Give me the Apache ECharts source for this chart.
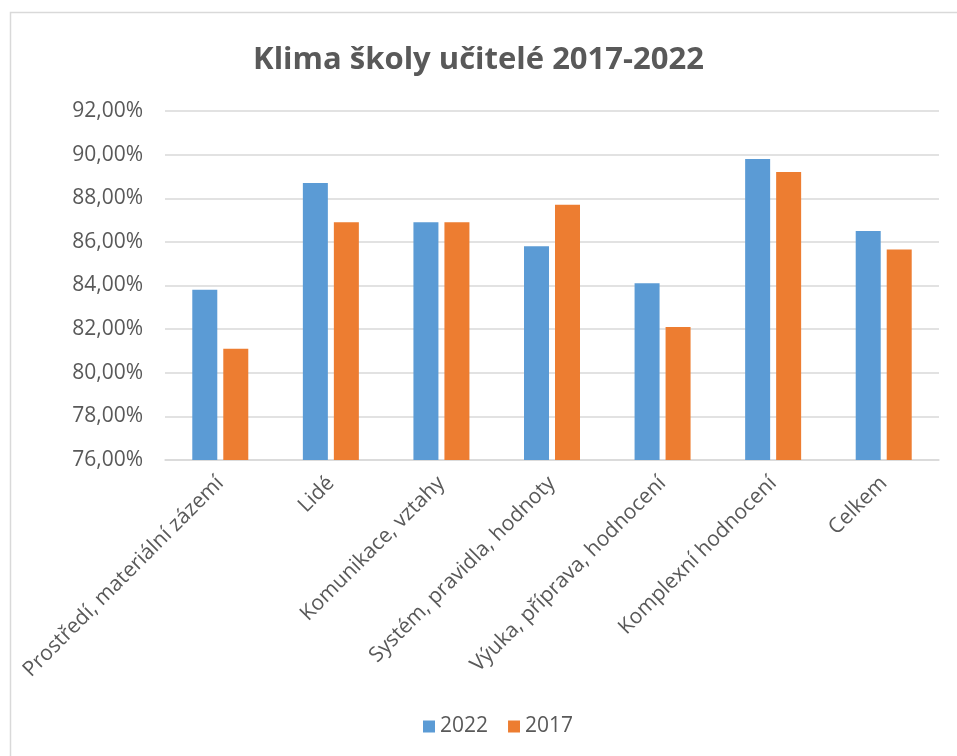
<!DOCTYPE html>
<html>
<head>
<meta charset="utf-8">
<script src="https://cdn.jsdelivr.net/npm/echarts@6/dist/echarts.min.js"></script>
<style>
  html, body { margin: 0; padding: 0; background: #fff; }
  #chart { width: 957px; height: 756px; }
</style>
</head>
<body>
<div id="chart"></div>
<script>
var chart = echarts.init(document.querySelector('#chart'));

// data
const categories = ['Prostředí, materiální zázemí', 'Lidé', 'Komunikace, vztahy',
  'Systém, pravidla, hodnoty', 'Výuka, příprava, hodnocení', 'Komplexní hodnocení', 'Celkem'];
const values2022 = [83.8, 88.7, 86.9, 85.8, 84.1, 89.8, 86.5];
const values2017 = [81.1, 86.9, 86.9, 87.7, 82.1, 89.2, 85.65];

const font = 'Open Sans';
const textColor = '#595959';
const lineColor = '#d9d9d9';

const option = {
  title: {
    text: 'Klima školy učitelé 2017-2022',
    left: 'center',
    top: 40,
    textStyle: { fontFamily: font, fontSize: 31, fontWeight: 'bold', color: textColor }
  },
  legend: {
    data: ['2022', '2017'],
    bottom: 14,
    left: 418,
    itemWidth: 12,
    itemHeight: 12,
    itemGap: 20,
    icon: 'rect',
    textStyle: { fontFamily: font, fontSize: 21, color: textColor }
  },
  grid: { left: 165, right: 18, top: 111, bottom: 296 },
  xAxis: {
    type: 'category',
    data: categories,
    axisLine: { lineStyle: { color: lineColor, width: 1.5 } },
    axisTick: { show: false },
    axisLabel: { rotate: 45, margin: 20, fontFamily: font, fontSize: 21, color: textColor, interval: 0 }
  },
  yAxis: {
    type: 'value',
    min: 76,
    max: 92,
    interval: 2,
    axisLine: { show: false },
    axisTick: { show: false },
    splitLine: { lineStyle: { color: lineColor, width: 1.5 } },
    axisLabel: {
      margin: 22,
      fontFamily: font, fontSize: 21, color: textColor,
      formatter: function (v) { return v.toFixed(2).replace('.', ',') + '%'; }
    }
  },
  series: [{
    name: '2022',
    type: 'bar',
    data: values2022,
    barWidth: 25,
    barGap: '24%',
    itemStyle: { color: '#5B9BD5' }
  }, {
    name: '2017',
    type: 'bar',
    data: values2017,
    barWidth: 25,
    itemStyle: { color: '#ED7D31' }
  }],
  graphic: [{
    type: 'rect',
    shape: { x: 10.5, y: 12.5, width: 960, height: 760 },
    style: { fill: null, stroke: lineColor, lineWidth: 1.5 },
    silent: true
  }]
};
chart.setOption(option);
</script>
</body>
</html>
